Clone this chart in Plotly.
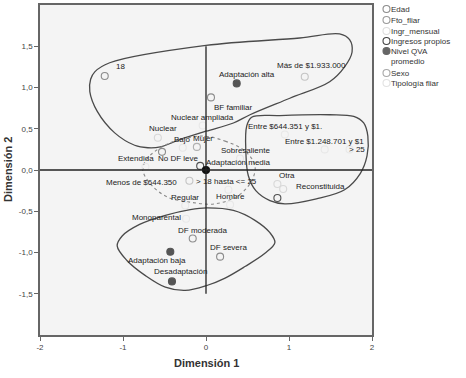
import plotly.graph_objects as go

# ---------------- data ----------------
labels = ["18", "> 18 hasta <= 25", "> 25",
          "No DF leve", "BF familiar", "DF moderada", "DF severa",
          "Menos de $644.350", "Entre $644.351 y $1.", "Entre $1.248.701 y $1", "Más de $1.933.000",
          "", "",
          "Adaptación alta", "Adaptación media", "Adaptación baja", "Desadaptación",
          "Bajo", "Regular", "Sobresaliente",
          "Hombre", "Mujer",
          "Nuclear", "Nuclear ampliada", "Extendida", "Monoparental", "Reconstituida", "Otra"]
dim1 = [-1.22, 0.27, 1.73,
        -0.53, 0.06, -0.16, 0.17,
        -0.20, 0.95, 1.43, 1.19,
        -0.07, 0.86,
        0.37, 0.00, -0.43, -0.41,
        -0.28, -0.25, 0.41,
        0.29, -0.11,
        -0.58, -0.04, -0.73, -0.24, 0.93, 0.86]
dim2 = [1.14, -0.24, 0.25,
        0.22, 0.88, -0.83, -1.05,
        -0.13, 0.43, 0.25, 1.13,
        0.05, -0.34,
        1.05, 0.00, -0.99, -1.35,
        0.27, -0.43, 0.14,
        -0.42, 0.28,
        0.39, 0.54, 0.04, -0.59, -0.23, -0.17]
variable = ["Edad"] * 3 + ["Fto_fliar"] * 4 + ["Ingr_mensual"] * 4 + ["Ingresos propios"] * 2 + \
           ["Nivel QVA promedio"] * 4 + ["Nivel QVA bajo"] * 3 + ["Sexo"] * 2 + ["Tipología fliar"] * 6

legend_names = ["Edad", "Fto_fliar", "Ingr_mensual", "Ingresos propios",
                "Nivel QVA<br>promedio", "Sexo", "Tipología fliar"]

x_ticks = [-2, -1, 0, 1, 2]
y_ticks = [-1.5, -1.0, -0.5, 0.0, 0.5, 1.0, 1.5]
y_tick_text = ["-1,5", "-1,0", "-0,5", "0,0", "0,5", "1,0", "1,5"]

# group outlines
hull_up_x = [-1.34, -1.16, 0.00, 1.13, 1.61, 1.73, 1.76, 1.67, 1.49, 1.01, 0.53, 0.33, 0.00, -0.31,
             -0.55, -0.70, -0.86, -1.10, -1.31, -1.40, -1.39, -1.34]
hull_up_y = [1.19, 1.30, 1.51, 1.60, 1.65, 1.58, 1.43, 1.25, 1.07, 0.87, 0.67, 0.57, 0.47, 0.37,
             0.28, 0.27, 0.30, 0.45, 0.71, 0.95, 1.10, 1.19]
hull_right_x = [0.55, 0.89, 1.49, 1.78, 1.90, 1.95, 1.94, 1.86, 1.67, 1.33, 0.95, 0.77, 0.60, 0.51,
                0.48, 0.49, 0.55]
hull_right_y = [0.64, 0.66, 0.67, 0.65, 0.57, 0.41, 0.17, -0.04, -0.24, -0.35, -0.41, -0.37, -0.25,
                -0.07, 0.23, 0.53, 0.64]
hull_low_x = [0.01, 0.33, 0.59, 0.77, 0.83, 0.71, 0.47, 0.23, 0.01, -0.25, -0.49, -0.73, -0.95,
              -1.07, -1.01, -0.80, -0.49, -0.19, 0.01]
hull_low_y = [-0.46, -0.49, -0.61, -0.76, -0.88, -1.01, -1.17, -1.31, -1.40, -1.46, -1.42, -1.28,
              -1.10, -0.92, -0.80, -0.66, -0.55, -0.48, -0.46]
hull_dash_x = [-0.01, 0.23, 0.47, 0.59, 0.55, 0.39, 0.11, -0.19, -0.46, -0.65, -0.76, -0.73, -0.61,
               -0.43, -0.22, -0.01]
hull_dash_y = [0.41, 0.35, 0.23, 0.05, -0.13, -0.31, -0.41, -0.39, -0.33, -0.19, -0.01, 0.11, 0.23,
               0.33, 0.39, 0.41]

# ---------------- styling ----------------
FONT = "Liberation Sans, Arial, sans-serif"
group_style = {
    "Edad": ("circle-open", "#8c8c8c"),
    "Fto_fliar": ("circle-open", "#8c8c8c"),
    "Ingr_mensual": ("circle-open", "#c4c4c4"),
    "Ingresos propios": ("circle-open", "#505050"),
    "Nivel QVA promedio": ("circle", "#555555"),
    "Nivel QVA bajo": ("circle-open", "#e6e6e6"),
    "Sexo": ("circle-open", "#b0b0b0"),
    "Tipología fliar": ("circle-open", "#d8d8d8"),
}
faint = {"> 18 hasta <= 25", "> 25", "Entre $644.351 y $1.", "Entre $1.248.701 y $1",
         "Hombre", "Nuclear ampliada", "Extendida", "Monoparental"}
special_color = {"Adaptación media": "#111111"}
# label offsets in screen pixels (dx right, dy down)
label_offset = {
    "18": (16, -9), "> 18 hasta <= 25": (-2, -8), "> 25": (7, 0),
    "No DF leve": (16, 7), "BF familiar": (23, 10), "DF moderada": (10, -8), "DF severa": (8, -9),
    "Menos de $644.350": (-48, 2), "Entre $644.351 y $1.": (0, -8), "Entre $1.248.701 y $1": (0, -8),
    "Más de $1.933.000": (7, -11),
    "Adaptación alta": (10, -9), "Adaptación media": (32, -8), "Adaptación baja": (-13, 9),
    "Desadaptación": (9, -10),
    "Bajo": (0, -8), "Regular": (0, -8), "Sobresaliente": (5, -8),
    "Hombre": (0, -8), "Mujer": (6, -8),
    "Nuclear": (5, -9), "Nuclear ampliada": (0, -8), "Extendida": (-9, -8), "Monoparental": (-30, -1),
    "Reconstituida": (37, -2), "Otra": (10, -9),
}

fig = go.Figure()

# outlines
for hx, hy in [(hull_up_x, hull_up_y), (hull_right_x, hull_right_y), (hull_low_x, hull_low_y)]:
    fig.add_trace(go.Scatter(x=hx, y=hy, mode="lines", line=dict(color="#4a4a4a", width=1.3, shape="spline", smoothing=1.0),
                             hoverinfo="skip", showlegend=False))
fig.add_trace(go.Scatter(x=hull_dash_x, y=hull_dash_y, mode="lines",
                         line=dict(color="#8a8a8a", width=1.1, dash="3px,3px", shape="spline", smoothing=1.0),
                         hoverinfo="skip", showlegend=False))

# points
symbols, colors = [], []
for lab, var in zip(labels, variable):
    sym, col = group_style[var]
    if lab in faint:
        sym, col = "circle-open", "#e8e8e8"
    if lab in special_color:
        col = special_color[lab]
    symbols.append(sym)
    colors.append(col)
fig.add_trace(go.Scatter(x=dim1, y=dim2, mode="markers",
                         marker=dict(symbol=symbols, color=colors, size=7, line=dict(width=1.1, color=colors)),
                         text=labels, hoverinfo="text", showlegend=False))

annotations = []
for lab, xv, yv in zip(labels, dim1, dim2):
    if not lab:
        continue
    dx, dy = label_offset.get(lab, (0, -8))
    annotations.append(dict(x=xv, y=yv, xref="x", yref="y", text=lab, showarrow=False,
                            xshift=dx, yshift=-dy, font=dict(family=FONT, size=8, color="#222222")))

# axis titles
annotations.append(dict(x=0.5, y=0, xref="paper", yref="paper", text="<b>Dimensión 1</b>", showarrow=False,
                        yanchor="top", yshift=-20, font=dict(family=FONT, size=11, color="#333333")))
annotations.append(dict(x=0, y=0.5, xref="paper", yref="paper", text="<b>Dimensión 2</b>", showarrow=False,
                        textangle=-90, xanchor="center", xshift=-32, font=dict(family=FONT, size=11, color="#333333")))

# manual legend
leg_rows = [7, 18, 29, 39, 49, 71, 81]
leg_style = [("open", "#8c8c8c"), ("open", "#9a9a9a"), ("open", "#dedede"), ("open", "#444444"),
             ("fill", "#666666"), ("open", "#a8a8a8"), ("open", "#e2e2e2")]
shapes = []
for name, row, (kind, col) in zip(legend_names, leg_rows, leg_style):
    cy = -(row - 3)
    shapes.append(dict(type="circle", xref="paper", yref="paper", xsizemode="pixel", ysizemode="pixel",
                       xanchor=1, yanchor=1, x0=11, x1=18, y0=cy - 3.5, y1=cy + 3.5,
                       line=dict(color=col, width=1.1), fillcolor=col if kind == "fill" else "rgba(0,0,0,0)"))
    annotations.append(dict(x=1, y=1, xref="paper", yref="paper", text=name, showarrow=False, align="left",
                            xanchor="left", yanchor="top", xshift=17, yshift=-(row - 3) + 6,
                            font=dict(family=FONT, size=8, color="#333333")))

# reference lines
shapes.append(dict(type="line", xref="x", yref="y", x0=0, x1=0, y0=-1.5, y1=1.5, line=dict(color="#222222", width=1.3)))
shapes.append(dict(type="line", xref="x", yref="y", x0=-2, x1=2, y0=0, y1=0, line=dict(color="#222222", width=1.3)))

fig.update_layout(
    width=466, height=378,
    margin=dict(l=40, r=94, t=3, b=43),
    paper_bgcolor="white", plot_bgcolor="#f4f4f4",
    font=dict(family=FONT, size=8, color="#444444"),
    annotations=annotations, shapes=shapes, showlegend=False,
)
fig.update_xaxes(range=[-2, 2], tickvals=x_ticks, ticktext=[str(v) for v in x_ticks], showgrid=False, zeroline=False,
                 showline=True, mirror=True, linecolor="#666666", linewidth=1.5, ticks="outside", ticklen=4,
                 tickcolor="#666666", tickfont=dict(size=8, color="#444444"))
fig.update_yaxes(range=[-2, 2], tickvals=y_ticks, ticktext=y_tick_text, showgrid=False, zeroline=False,
                 showline=True, mirror=True, linecolor="#666666", linewidth=1.5, ticks="outside", ticklen=4,
                 tickcolor="#666666", tickfont=dict(size=8, color="#444444"))

fig.write_html("out.html", config={"displayModeBar": False},
               post_script="document.body.style.margin='0';document.body.style.overflow='hidden';")
